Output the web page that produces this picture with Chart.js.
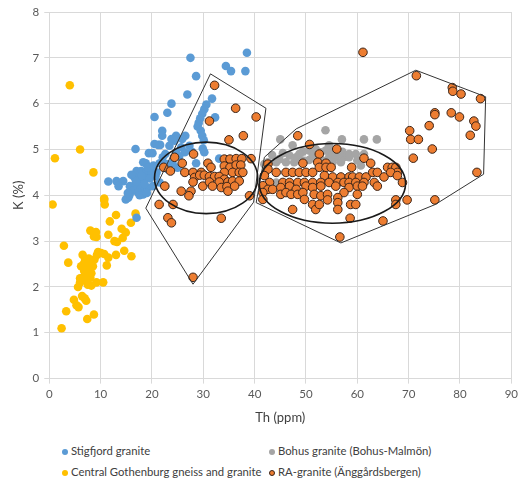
<!DOCTYPE html>
<html>
<head>
<meta charset="utf-8">
<script src="https://cdn.jsdelivr.net/npm/chart.js@4/dist/chart.umd.min.js"></script>
<style>
  body { margin: 0; background: #fff; font-family: Lato, "Liberation Sans", sans-serif; }
  #wrap { position: relative; width: 522px; height: 430px; }
  #legend { position: absolute; left: 62px; top: 444px; width: 460px; font-size: 11.3px; line-height: 14px; color: #404040; }
  .item { position: absolute; white-space: nowrap; }
  .dot { display: inline-block; width: 6px; height: 6px; border-radius: 50%; margin-right: 3px; vertical-align: 0px; box-sizing: border-box; }
</style>
</head>
<body>
<div id="wrap"><canvas id="chart"></canvas></div>
<div id="legend"></div>
<script>
// Series names and colours
const seriesNames = ['Stigfjord granite', 'Bohus granite (Bohus-Malmön)', 'Central Gothenburg gneiss and granite', 'RA-granite (Änggårdsbergen)'];

// Stigfjord granite [Th, K]
const stigfjord = [
  [38.5,7.11],[27.5,7.0],[38.2,6.71],[34.4,6.82],[35.4,6.71],[28.6,6.6],[26.9,6.2],[31.7,6.11],[23.8,6.0],
  [30.6,5.98],[30.2,5.88],[29.8,5.78],[29.4,5.68],[29.1,5.58],[28.9,5.5],[23.0,5.8],[32.3,5.7],[20.5,5.71],
  [22.0,5.41],[22.0,5.3],[29.5,5.41],[29.8,5.3],[30.1,5.2],[26.5,5.3],[25.9,5.23],[24.4,5.19],[24.7,5.3],
  [23.8,5.23],[23.4,5.08],[21.2,5.1],[21.6,5.1],[20.5,5.12],[16.8,5.01],[19.4,4.92],[20.1,4.92],[18.8,4.7],
  [18.3,4.72],[28.6,4.7],[33.1,4.8],[29.9,5.02],[30.2,4.94],[27.3,5.08],[25.7,5.05],[24.7,4.94],[26.4,4.94],
  [22.1,4.83],[22.8,4.68],[23.1,4.57],[17.0,4.53],[17.9,4.53],[18.9,4.51],[19.9,4.5],[20.9,4.5],[16.6,4.39],
  [17.6,4.35],[18.6,4.37],[19.6,4.37],[13.1,4.31],[11.5,4.3],[14.4,4.31],[13.5,4.2],[15.7,4.2],[17.0,4.2],
  [17.9,4.17],[19.2,4.17],[20.2,4.2],[16.3,4.1],[17.3,4.06],[18.3,4.02],[15.4,3.95],[14.9,3.91],[15.6,4.0],
  [17.0,3.51],[20.7,4.42],[21.5,4.28],[24.0,4.7],[25.0,4.6],[21.5,4.7],[16.0,4.45],[15.3,4.05],[17.6,4.0],[19.0,4.05],
  [18.0,4.42],[19.2,4.6],[20.3,4.65],[22.6,4.9],[25.3,4.85],[27.8,4.95],[18.5,4.25],[16.9,4.3]
];

// Bohus granite (Bohus-Malmön)
const bohus = [
  [49.4,4.95],[50.6,4.98],[51.9,5.01],[52.9,4.94],[53.9,4.98],[55.8,5.01],[57.1,4.95],[58.4,4.9],[59.7,4.9],
  [61.3,4.9],[45.5,4.92],[46.8,4.87],[48.1,4.83],[46.1,4.72],[47.7,4.72],[49.4,4.76],[50.6,4.77],[51.9,4.79],
  [53.2,4.76],[54.5,4.83],[55.8,4.83],[57.4,4.83],[58.4,4.83],[60.0,4.76],[42.6,4.72],[41.9,4.68],[44.2,4.72],
  [43.4,4.88],[44.8,4.79],[55.2,4.72],[56.8,4.72],[60.7,4.65],[44.2,4.28],[43.2,4.13],[53.8,5.42],[45.0,5.22],
  [57.0,5.22],[61.3,5.22],[63.8,5.22],[47.4,5.09],[54.5,5.09],[48.7,4.9],[51.3,4.88],[52.6,4.87],[55.2,4.94],[56.5,4.9]
];

// Central Gothenburg gneiss and granite
const gothenburg = [
  [4.0,6.4],[1.1,4.81],[6.0,5.0],[8.6,4.5],[10.7,3.93],[0.65,3.8],[10.7,3.9],[10.8,3.8],[13.0,3.57],[11.8,3.43],
  [16.8,3.6],[15.9,3.4],[8.0,3.23],[9.1,3.2],[8.7,3.1],[9.2,3.09],[11.5,3.14],[14.1,3.27],[14.9,3.19],[14.3,3.07],
  [13.2,2.98],[12.7,3.0],[2.85,2.9],[14.6,2.79],[16.0,2.67],[13.0,2.7],[3.7,2.53],[11.5,2.64],[11.2,2.47],
  [10.7,2.72],[10.1,2.74],[9.5,2.76],[6.5,2.7],[7.0,2.6],[7.5,2.5],[8.0,2.55],[8.5,2.45],[6.2,2.45],[6.8,2.35],
  [7.3,2.3],[7.8,2.4],[8.2,2.3],[6.5,2.2],[7.0,2.15],[7.5,2.05],[8.0,2.2],[8.8,2.6],[9.3,2.7],[6.0,2.1],
  [6.0,2.19],[5.6,2.0],[8.2,2.03],[9.2,2.1],[10.5,2.1],[4.8,1.72],[5.3,1.6],[5.7,1.56],[6.4,1.8],[6.9,1.75],
  [7.2,1.7],[3.3,1.47],[7.4,1.3],[8.7,1.4],[2.4,1.1],[7.2,2.45],[7.7,2.62],[6.8,2.52]
];

// RA-granite (Änggårdsbergen)
const raGranite = [
  [32.2,6.4],[36.3,5.9],[40.3,5.71],[31.2,5.62],[35.0,5.21],[37.8,5.3],
  [28.1,4.9],[24.4,4.83],[25.9,4.7],[22.3,4.61],[23.6,4.53],[26.4,4.5],[28.0,4.5],[29.6,4.5],[30.9,4.7],
  [31.5,4.61],[34.1,4.79],[35.2,4.79],[36.4,4.8],[37.5,4.8],[39.3,4.8],[34.1,4.64],[35.2,4.61],[36.4,4.66],
  [37.3,4.66],[34.1,4.5],[35.7,4.5],[37.0,4.5],[37.7,4.5],[28.3,4.39],[29.3,4.44],[30.2,4.44],[31.2,4.41],
  [32.2,4.41],[33.1,4.41],[34.1,4.35],[28.0,4.29],[29.9,4.2],[31.2,4.29],[33.1,4.29],[34.8,4.29],[35.7,4.31],
  [37.0,4.31],[22.5,4.2],[25.7,4.09],[27.6,4.09],[27.2,3.99],[31.8,4.2],[33.5,4.17],[34.6,4.19],[34.8,4.09],
  [36.1,4.2],[39.0,3.99],[21.4,3.8],[24.1,3.8],[23.1,3.51],[23.8,3.4],[33.5,3.5],[28.0,2.21],
  [61.1,7.12],[71.5,6.61],[78.5,6.35],[78.6,6.27],[80.2,6.21],[84.0,6.11],[75.1,5.8],[75.1,5.76],[78.3,5.8],
  [79.9,5.71],[82.7,5.62],[83.1,5.51],[74.0,5.52],[82.0,5.31],[70.2,5.41],[70.4,5.22],[71.9,5.22],[74.6,5.01],
  [70.9,4.81],[83.3,4.5],[67.5,3.9],[67.5,3.8],[69.7,3.9],[75.1,3.9],[65.0,3.44],[56.6,3.09],[58.6,3.5],
  [48.4,5.3],[50.7,5.11],[56.0,5.01],[52.6,4.9],[61.3,4.81],[49.4,4.7],[52.3,4.72],[53.9,4.7],[52.6,4.61],
  [53.9,4.61],[58.9,4.61],[62.6,4.7],[65.9,4.61],[66.8,4.61],[67.5,4.61],[42.6,4.68],[42.6,4.57],[44.2,4.5],
  [46.1,4.5],[47.4,4.5],[48.7,4.5],[50.0,4.5],[51.3,4.5],[54.9,4.61],[67.8,4.5],
  [53.6,4.43],[55.2,4.4],[56.8,4.4],[58.4,4.4],[59.1,4.4],[60.4,4.4],[61.7,4.4],[63.0,4.5],[63.9,4.5],
  [65.2,4.4],[66.5,4.5],[67.8,4.43],[41.9,4.43],[42.9,4.28],[41.6,4.21],[42.6,4.13],[43.5,4.13],[41.6,4.06],
  [41.6,3.91],[45.5,4.28],[46.8,4.28],[48.4,4.28],[49.7,4.28],[51.3,4.28],[52.9,4.28],[54.5,4.28],[56.2,4.28],
  [57.4,4.28],[58.4,4.28],[59.7,4.28],[61.3,4.28],[63.3,4.28],[68.8,4.28],[45.1,4.17],[46.8,4.2],[48.1,4.13],
  [50.0,4.2],[51.3,4.17],[52.9,4.2],[55.8,4.2],[58.4,4.17],[60.0,4.2],[61.0,4.2],[45.1,4.02],[46.1,4.06],
  [47.1,4.02],[48.4,4.02],[49.4,4.06],[51.6,4.02],[52.9,3.99],[54.2,4.02],[57.4,4.06],[60.0,4.02],[63.9,4.2],
  [47.4,3.69],[49.7,3.91],[51.3,3.8],[51.9,3.69],[52.6,3.8],[54.2,3.9],[56.2,3.95],[56.2,3.84],[56.2,3.69],
  [58.7,3.8],[59.7,3.8]
];

// Outline polygons [Th, K]
const outlineLeft = [[31.4,6.65],[42.2,5.9],[39.8,3.85],[28.0,2.06],[18.8,3.72],[31.4,6.65]];
const outlineRight = [[40.3,3.84],[41.9,4.83],[48.1,5.45],[71.4,6.73],[85.0,6.15],[84.6,4.46],[75.2,3.8],[56.8,2.96],[40.3,3.84]];

// Ellipses [centre Th, centre K, half width Th, half height K]
const ellipses = [[30.55,4.38,10.05,0.78],[55.15,4.26,14.25,0.87]];

const xTicks = [0, 90, 10];
const yTicks = [0, 8, 1];

const toPts = arr => arr.map(p => ({ x: p[0], y: p[1] }));

const ellipsePlugin = {
  id: 'ellipses',
  afterDatasetsDraw(chart) {
    const { ctx, scales: { x, y } } = chart;
    ctx.save();
    ctx.strokeStyle = '#1a1a1a';
    ctx.lineWidth = 1.6;
    ellipses.forEach(e => {
      const cx = x.getPixelForValue(e[0]);
      const cy = y.getPixelForValue(e[1]);
      const rx = x.getPixelForValue(e[0] + e[2]) - cx;
      const ry = cy - y.getPixelForValue(e[1] + e[3]);
      ctx.beginPath();
      ctx.ellipse(cx, cy, rx, ry, 0, 0, Math.PI * 2);
      ctx.stroke();
    });
    ctx.restore();
  }
};

const outlineStyle = {
  type: 'scatter', showLine: true, pointRadius: 0, borderColor: '#333333',
  borderWidth: 1, backgroundColor: 'transparent', order: -1, fill: false
};

const tickFont = { family: 'Lato', size: 11.5 };
const titleFont = { family: 'Lato', size: 13 };

new Chart(document.getElementById('chart'), {
  type: 'scatter',
  data: {
    datasets: [
      { label: seriesNames[0], data: toPts(stigfjord), backgroundColor: '#5B9BD5', borderWidth: 0, pointRadius: 4.3, order: 3 },
      { label: seriesNames[1], data: toPts(bohus), backgroundColor: '#A5A5A5', borderWidth: 0, pointRadius: 4.3, order: 2 },
      { label: seriesNames[2], data: toPts(gothenburg), backgroundColor: '#FFC000', borderWidth: 0, pointRadius: 4.3, order: 4 },
      { label: seriesNames[3], data: toPts(raGranite), backgroundColor: '#ED7D31', borderColor: '#3b2418', borderWidth: 1, pointRadius: 4.3, order: 1 },
      Object.assign({ label: 'outline1', data: toPts(outlineLeft) }, outlineStyle),
      Object.assign({ label: 'outline2', data: toPts(outlineRight) }, outlineStyle)
    ]
  },
  options: {
    responsive: true,
    maintainAspectRatio: false,
    animation: false,
    layout: { padding: { left: 8, right: 9, top: 12, bottom: 2 } },
    plugins: { legend: { display: false }, tooltip: { enabled: false } },
    scales: {
      x: {
        min: xTicks[0], max: xTicks[1],
        ticks: { stepSize: xTicks[2], color: '#595959', font: tickFont, padding: 4 },
        grid: { color: '#d9d9d9', tickLength: 5 },
        border: { color: '#d9d9d9' },
        title: { display: true, text: 'Th (ppm)', color: '#404040', font: titleFont, padding: { top: 5, bottom: 2 } }
      },
      y: {
        min: yTicks[0], max: yTicks[1],
        ticks: { stepSize: yTicks[2], color: '#595959', font: tickFont, padding: 5 },
        grid: { color: '#d9d9d9', tickLength: 5 },
        border: { color: '#d9d9d9' },
        title: { display: true, text: 'K (%)', color: '#404040', font: titleFont, padding: { top: 3, bottom: 1 } }
      }
    }
  },
  plugins: [ellipsePlugin]
});

// Legend laid out in two columns like the original
const legendColors = [['#5B9BD5', 'none'], ['#A5A5A5', 'none'], ['#FFC000', 'none'], ['#ED7D31', '1px solid #3b2418']];
const legendPos = [[0, 0], [207, 0], [0, 21], [207, 21]];
const legend = document.getElementById('legend');
seriesNames.forEach((name, i) => {
  const el = document.createElement('div');
  el.className = 'item';
  el.style.left = legendPos[i][0] + 'px';
  el.style.top = legendPos[i][1] + 'px';
  el.innerHTML = '<span class="dot" style="background:' + legendColors[i][0] + ';border:' + legendColors[i][1] + '"></span>' + name;
  legend.appendChild(el);
});
</script>
</body>
</html>
